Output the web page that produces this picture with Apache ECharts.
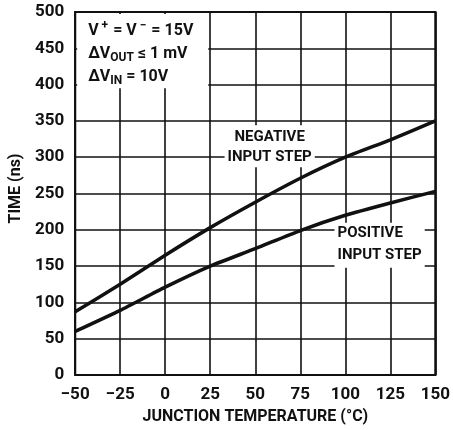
<!DOCTYPE html>
<html><head><meta charset="utf-8">
<script src="https://cdn.jsdelivr.net/npm/echarts@6/dist/echarts.min.js"></script>
<style>html,body{margin:0;padding:0;background:#fff}#c{width:453px;height:430px}</style>
</head><body><div id="c"></div>
<script>
var temps = [-50, -25, 0, 25, 50, 75, 100, 125, 150];
var negativeStep = [87, 125, 165, 203, 238, 271, 300, 324, 350];
var positiveStep = [60, 89, 121, 150, 174, 199, 220, 237, 253];
var xTicks = [-50, -25, 0, 25, 50, 75, 100, 125, 150];
var yTicks = [0, 50, 100, 150, 200, 250, 300, 350, 400, 450, 500];

var FONT = 'Roboto';
function pairs(xs, ys){ return xs.map(function(x,i){return [x, ys[i]];}); }

var chart = echarts.init(document.getElementById('c'));
var option = {
  animation:false,
  backgroundColor:'#fff',
  grid:{left:71, right:16, top:12, bottom:54, show:true, borderColor:'#111', borderWidth:2.2, backgroundColor:'transparent'},
  xAxis:{type:'value', min:-50, max:150, interval:25,
    axisLine:{show:false}, axisTick:{show:false},
    splitLine:{show:true, lineStyle:{color:'#111', width:1.6}},
    axisLabel:{color:'#111', fontFamily:FONT, fontWeight:'bold', fontSize:17, margin:11,
      formatter:function(v){return v<0 ? '\u2212' + Math.abs(v) : String(v);}},
    name:'JUNCTION TEMPERATURE (\u00B0C)', nameLocation:'middle', nameGap:34,
    nameTextStyle:{color:'#111', fontFamily:FONT, fontWeight:'bold', fontSize:16}},
  yAxis:{type:'value', min:0, max:500, interval:50,
    axisLine:{show:false}, axisTick:{show:false},
    splitLine:{show:true, lineStyle:{color:'#111', width:1.6}},
    axisLabel:{color:'#111', fontFamily:FONT, fontWeight:'bold', fontSize:17, margin:11},
    name:'TIME (ns)', nameLocation:'middle', nameGap:47, nameRotate:90,
    nameTextStyle:{color:'#111', fontFamily:FONT, fontWeight:'bold', fontSize:16, padding:[0,0,0,10]}},
  series:[
    {type:'line', data:pairs(temps, negativeStep), symbol:'none', smooth:0.2,
      lineStyle:{color:'#111', width:3.5}, z:5},
    {type:'line', data:pairs(temps, positiveStep), symbol:'none', smooth:0.2,
      lineStyle:{color:'#111', width:3.5}, z:5}
  ]
};
chart.setOption(option);

function px(x,y){ return chart.convertToPixel({gridIndex:0}, [x,y]); }
var tl = px(-50, 500), br = px(25, 395);
var negL = px(58, 300), posL = px(94, 196);
chart.setOption({graphic:[
  {type:'rect', shape:{x:tl[0]+2, y:tl[1]+2, width:br[0]-tl[0]-4, height:br[1]-tl[1]-2}, style:{fill:'#fff'}, z:10},
  {type:'text', x:tl[0]+13, y:tl[1]+7, z:11, style:{
    text:'{b|V}{p|+}{b| = V}{p|\u2212}{b| = 15V}\n{b|\u0394V}{s|OUT}{b| \u2264 1 mV}\n{b|\u0394V}{s|IN}{b| = 10V}',
    rich:{b:{fill:'#111', fontFamily:FONT, fontWeight:'bold', fontSize:16, lineHeight:23},
          p:{fill:'#111', fontFamily:FONT, fontWeight:'bold', fontSize:12, lineHeight:23, padding:[0,1,9,3]},
          s:{fill:'#111', fontFamily:FONT, fontWeight:'bold', fontSize:12, lineHeight:23, padding:[8,0,0,0]}}}},
  {type:'text', x:negL[0], y:negL[1]+10, z:11, style:{text:'NEGATIVE\nINPUT STEP', fill:'#111', font:'bold 15px ' + FONT,
    align:'center', verticalAlign:'bottom', lineHeight:20, padding:[2,3,0,3], backgroundColor:'#fff'}},
  {type:'text', x:posL[0], y:posL[1]-10, z:11, style:{text:'POSITIVE\nINPUT STEP', fill:'#111', font:'bold 15px ' + FONT,
    align:'left', verticalAlign:'top', lineHeight:22, padding:[0,3,1,3], backgroundColor:'#fff'}}
]});
</script></body></html>
